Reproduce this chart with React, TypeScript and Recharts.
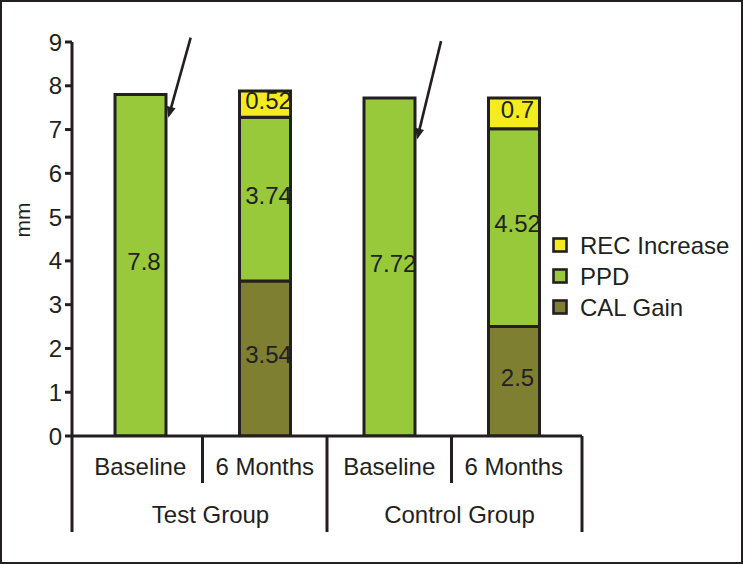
import React from 'react';
import { BarChart, Bar, XAxis, YAxis, Legend, LabelList, ReferenceLine } from 'recharts';

// ---- data ----
const groups = ['Test Group', 'Control Group'];
const periods = ['Baseline', '6 Months', 'Baseline', '6 Months'];
const calGain = [0, 3.54, 0, 2.5];
const ppd = [7.8, 3.74, 7.72, 4.52];
const recIncrease = [0, 0.6, 0, 0.7];
const recLabels = ['', '0.52', '', '0.7'];
const yTicks = [0, 1, 2, 3, 4, 5, 6, 7, 8, 9];
// arrows in data coordinates (x: category position index, y: mm)
const arrows = [
  { from: { x: 0.405, y: 9.1 }, to: { x: 0.225, y: 7.27 } },
  { from: { x: 2.416, y: 9.02 }, to: { x: 2.223, y: 6.77 } },
];

const data = periods.map((p, i) => ({
  id: `${groups[Math.floor(i / 2)]} ${p}`,
  pos: i,
  cal: calGain[i],
  ppd: ppd[i],
  rec: recIncrease[i],
  recLabel: recLabels[i],
}));

// ---- styling / layout ----
const INK = '#231f20';
const GREEN = '#98C93B';
const OLIVE = '#7F7F32';
const YELLOW = '#F4EC1C';
const FONT = '"Liberation Sans", Arial, sans-serif';
const FS = 24;
const CHART_W = 739;
const CHART_H = 560;
const MARGIN = { top: 40, right: 159, left: 0, bottom: 0 };
const YAXIS_W = 70;
const PAD = 6;
const PLOT_LEFT = MARGIN.left + YAXIS_W;
const PLOT_RIGHT = CHART_W - MARGIN.right;
const BAND = (PLOT_RIGHT - PLOT_LEFT - PAD * 2) / periods.length;

const renderXTick = (props: any) => {
  const { x, y } = props;
  const i = props.index ?? props.payload?.index ?? 0;
  const lines: { x: number; long: boolean }[] = [];
  if (i === 0) lines.push({ x: PLOT_LEFT, long: true });
  if (i === periods.length - 1) lines.push({ x: PLOT_RIGHT, long: true });
  else lines.push({ x: x + BAND / 2, long: i % 2 === 1 });
  return (
    <g>
      {lines.map((l, k) => (
        <line key={k} x1={l.x} x2={l.x} y1={y} y2={y + (l.long ? 96 : 47)} stroke={INK} strokeWidth={3} />
      ))}
      <text x={x} y={y + 39} textAnchor="middle" fontSize={FS} fill={INK} fontFamily={FONT}>
        {periods[i]}
      </text>
      {i % 2 === 1 && (
        <text x={x - BAND / 2 + 8} y={y + 87} textAnchor="middle" fontSize={FS} fill={INK} fontFamily={FONT}>
          {groups[Math.floor(i / 2)]}
        </text>
      )}
    </g>
  );
};

const renderValue = (props: any) => {
  const vb = props.viewBox ?? props;
  const x = vb.x ?? props.x;
  const y = vb.y ?? props.y;
  const w = vb.width ?? props.width;
  const h = vb.height ?? props.height;
  const v = props.value;
  if (v === '' || v === 0 || v == null) return null;
  return (
    <text
      x={x + w / 2 + 3.5}
      y={y + h / 2 - 4}
      dy="0.36em"
      textAnchor="middle"
      fontSize={FS}
      fill={INK}
      fontFamily={FONT}
    >
      {String(v)}
    </text>
  );
};

const Arrow = (props: any) => {
  const { x1, y1, x2, y2 } = props;
  const dx = x2 - x1;
  const dy = y2 - y1;
  const len = Math.hypot(dx, dy) || 1;
  const ux = dx / len;
  const uy = dy / len;
  const headLen = 11;
  const headW = 4.5;
  const bx = x2 - ux * headLen;
  const by = y2 - uy * headLen;
  const px = -uy;
  const py = ux;
  return (
    <g>
      <line x1={x1} y1={y1} x2={bx + ux * 2} y2={by + uy * 2} stroke={INK} strokeWidth={2.6} />
      <polygon
        points={`${x2},${y2} ${bx + px * headW},${by + py * headW} ${bx - px * headW},${by - py * headW}`}
        fill={INK}
      />
    </g>
  );
};

const renderLegend = (props: any) => {
  const payload = [...(props.payload || [])].reverse();
  return (
    <svg width={190} height={100} style={{ display: 'block' }}>
      {payload.map((it: any, i: number) => {
        const cy = 14 + i * 31;
        return (
          <g key={i}>
            <rect x={1.5} y={cy - 6.5} width={13} height={13} fill={it.color} stroke={INK} strokeWidth={2.6} />
            <text x={28} y={cy} dy="0.36em" fontSize={FS} fill={INK} fontFamily={FONT}>
              {it.value}
            </text>
          </g>
        );
      })}
    </svg>
  );
};

const renderYLabel = (props: any) => {
  const vb = props.viewBox || { x: 0, y: MARGIN.top, width: YAXIS_W, height: 394 };
  const cx = vb.x + 20;
  const cy = vb.y + vb.height / 2 - 19;
  return (
    <text
      x={cx}
      y={cy}
      transform={`rotate(-90, ${cx}, ${cy})`}
      textAnchor="middle"
      dy="0.36em"
      fontSize={21}
      fill={INK}
      fontFamily={FONT}
    >
      mm
    </text>
  );
};

export default function App() {
  return (
    <div
      style={{
        position: 'absolute',
        left: 0,
        top: 0,
        width: 743,
        height: 564,
        boxSizing: 'border-box',
        border: `2px solid ${INK}`,
        background: '#fff',
        fontFamily: FONT,
      }}
    >
      <BarChart width={CHART_W} height={CHART_H} data={data} margin={MARGIN} barCategoryGap={0}>
        <XAxis
          dataKey="id"
          interval={0}
          tickSize={0}
          tickMargin={0}
          padding={{ left: PAD, right: PAD }}
          height={126}
          axisLine={{ stroke: INK, strokeWidth: 3 }}
          tickLine={false}
          tick={renderXTick}
        />
        <XAxis
          xAxisId="pos"
          dataKey="pos"
          type="number"
          domain={[0, periods.length - 1]}
          allowDataOverflow
          padding={{ left: PAD + BAND / 2, right: PAD + BAND / 2 }}
          hide
        />
        <YAxis
          width={YAXIS_W}
          domain={[0, 9]}
          ticks={yTicks}
          interval={0}
          allowDataOverflow
          tickSize={7}
          tickMargin={3}
          axisLine={{ stroke: INK, strokeWidth: 3 }}
          tickLine={{ stroke: INK, strokeWidth: 3 }}
          tick={{ fontSize: FS, fill: INK, fontFamily: FONT }}
          label={renderYLabel}
        />
        <Legend
          layout="horizontal"
          verticalAlign="middle"
          align="center"
          content={renderLegend}
          wrapperStyle={{ left: 550, top: 229, width: 190, height: 100 }}
        />
        <Bar dataKey="cal" name="CAL Gain" stackId="a" fill={OLIVE} stroke={INK} strokeWidth={3} barSize={51} isAnimationActive={false}>
          <LabelList dataKey="cal" content={renderValue} />
        </Bar>
        <Bar dataKey="ppd" name="PPD" stackId="a" fill={GREEN} stroke={INK} strokeWidth={3} barSize={51} isAnimationActive={false}>
          <LabelList dataKey="ppd" content={renderValue} />
        </Bar>
        <Bar dataKey="rec" name="REC Increase" stackId="a" fill={YELLOW} stroke={INK} strokeWidth={3} barSize={51} isAnimationActive={false}>
          <LabelList dataKey="recLabel" content={renderValue} />
        </Bar>
        {arrows.map((a, i) => (
          <ReferenceLine
            key={i}
            xAxisId="pos"
            segment={[a.from, a.to]}
            ifOverflow="visible"
            shape={Arrow}
          />
        ))}
      </BarChart>
    </div>
  );
}
